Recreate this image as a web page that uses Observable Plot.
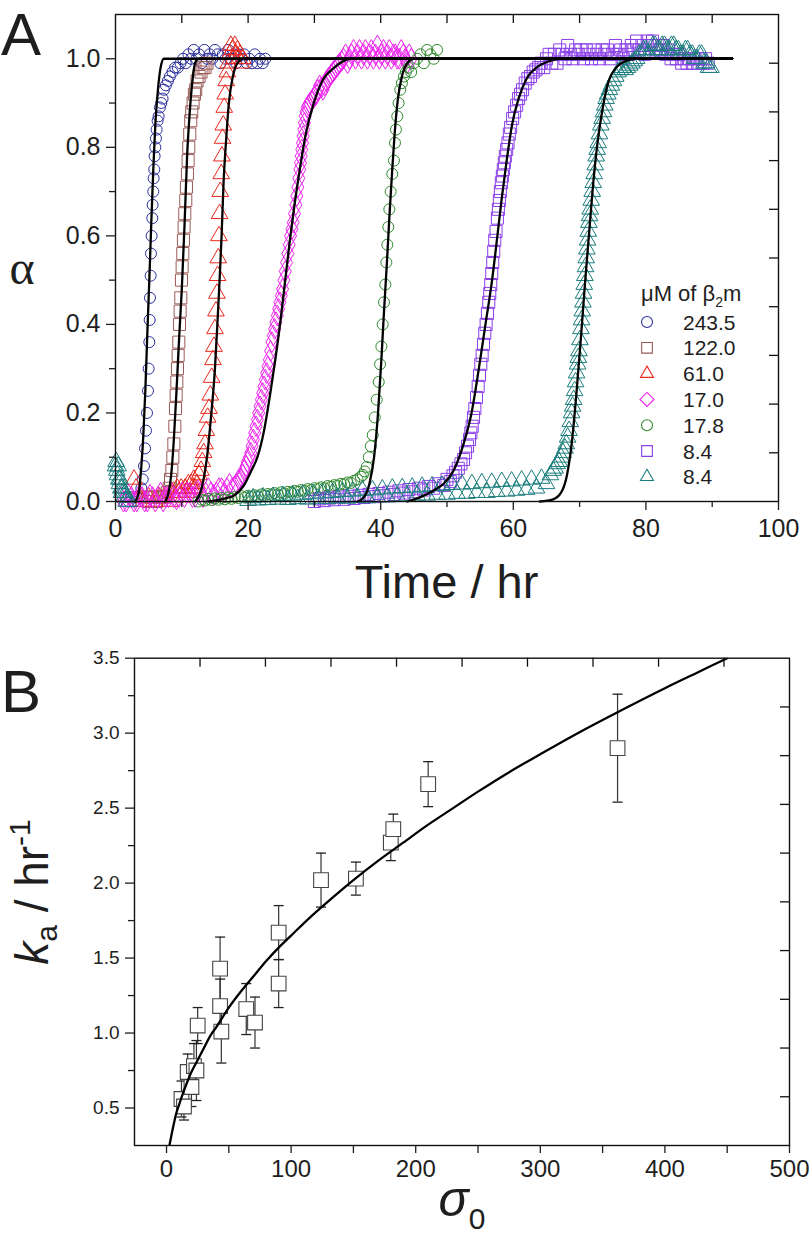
<!DOCTYPE html>
<html><head><meta charset="utf-8">
<script src="https://cdn.jsdelivr.net/npm/d3@7"></script>
<script src="https://cdn.jsdelivr.net/npm/@observablehq/plot@0.6"></script>
<style>
body{margin:0;background:#fff;}
#wrap{position:relative;width:809px;height:1235px;overflow:hidden;background:#fff;}
</style></head><body><div id="wrap"></div>
<script>
const FONT = '"Liberation Sans", Arial, Helvetica, sans-serif';

// ---------- Panel A data ----------
const seriesLabels = ["243.5","122.0","61.0","17.0","17.8","8.4","8.4"];
const seriesColors = ["#2b2f9b","#9a5b57","#e8281e","#ee22ee","#2f8a2f","#8a3ee8","#1b7d7d"];
const seriesSymbols = ["circle","square","triangle","diamond","circle","square","triangle"];

const obs243_5 = [[1.6,0.01],[2.0,0.0],[2.4,0.01],[2.8,0.0],[3.2,0.01],[3.6,0.01],[3.9,0.03],[4.1,0.05],[4.3,0.08],[4.45,0.12],[4.6,0.16],[4.75,0.2],[4.9,0.25],[5.0,0.3],[5.1,0.36],[5.15,0.41],[5.2,0.46],[5.3,0.51],[5.35,0.56],[5.45,0.6],[5.55,0.64],[5.6,0.67],[5.7,0.7],[5.75,0.73],[5.85,0.75],[5.9,0.78],[6.0,0.8],[6.1,0.82],[6.2,0.84],[6.35,0.86],[6.5,0.87],[6.7,0.89],[6.9,0.9],[7.1,0.91],[7.3,0.93],[7.6,0.94],[7.9,0.95],[8.2,0.96],[8.6,0.97],[9.0,0.98],[9.4,0.98],[9.8,0.99],[10.2,1.0],[10.6,0.99],[11.0,1.01],[11.4,1.0],[11.8,1.02],[12.2,1.0],[12.6,1.01],[13.0,0.99],[13.4,1.02],[13.8,1.0],[14.2,1.01],[14.6,1.0],[15.0,1.02],[15.4,1.01],[15.8,0.99],[16.2,1.01],[16.6,1.0],[17.0,1.02],[17.4,1.0],[17.8,1.01],[18.2,0.99],[18.6,1.01],[19.0,1.0],[19.4,1.01],[19.8,0.99],[20.2,1.0],[20.6,0.99],[21.0,1.01],[21.4,0.99],[21.8,1.0],[22.2,0.99],[22.6,1.0]];
const obs122_0 = [[4.6,0.01],[5.0,0.0],[5.4,0.01],[5.8,0.01],[6.2,0.0],[6.6,0.01],[7.0,0.01],[7.4,0.01],[7.8,0.02],[8.1,0.03],[8.3,0.05],[8.5,0.07],[8.65,0.1],[8.8,0.13],[8.95,0.17],[9.05,0.21],[9.15,0.24],[9.25,0.27],[9.35,0.3],[9.45,0.33],[9.55,0.36],[9.65,0.4],[9.75,0.43],[9.85,0.46],[9.95,0.5],[10.05,0.53],[10.15,0.56],[10.25,0.59],[10.35,0.62],[10.45,0.65],[10.6,0.68],[10.7,0.71],[10.85,0.74],[10.95,0.77],[11.05,0.8],[11.2,0.83],[11.35,0.86],[11.5,0.88],[11.7,0.9],[11.9,0.92],[12.1,0.93],[12.3,0.95],[12.6,0.96],[12.9,0.97],[13.2,0.98],[13.5,0.98],[13.8,0.99]];
const obs61_0 = [[2.8,0.05],[3.1,0.03],[3.6,0.01],[4.2,0.0],[5.0,0.01],[5.8,0.0],[6.6,0.01],[7.4,0.01],[8.2,0.0],[8.6,0.02],[9.0,0.01],[9.3,0.03],[9.6,0.02],[9.9,0.03],[10.2,0.01],[10.5,0.03],[10.7,0.02],[11.0,0.04],[11.2,0.02],[11.4,0.04],[11.6,0.03],[11.8,0.05],[12.0,0.03],[12.3,0.04],[12.6,0.06],[12.9,0.07],[13.1,0.09],[13.3,0.11],[13.5,0.13],[13.7,0.16],[13.9,0.19],[14.1,0.21],[14.3,0.24],[14.5,0.28],[14.7,0.32],[14.85,0.35],[15.0,0.39],[15.15,0.43],[15.3,0.47],[15.4,0.51],[15.5,0.55],[15.6,0.6],[15.7,0.65],[15.8,0.7],[15.95,0.74],[16.05,0.78],[16.15,0.82],[16.25,0.85],[16.4,0.89],[16.55,0.92],[16.7,0.95],[16.85,0.97],[17.0,0.99],[17.2,1.01],[17.4,1.03],[17.6,1.02],[17.8,1.0],[18.0,1.03],[18.2,1.01],[18.4,1.02],[18.6,1.0],[18.8,1.01],[19.0,0.99],[19.2,1.0]];
const obs17_0 = [[0.8,0.01],[1.2,0.0],[1.6,0.0],[2.0,0.015],[2.4,0.01],[2.8,0.0],[3.2,0.0],[3.6,0.015],[4.0,0.01],[4.4,0.0],[4.8,0.0],[5.2,0.015],[5.6,0.01],[6.0,0.0],[6.4,0.01],[6.8,0.02],[7.2,0.0],[7.6,0.01],[8.0,0.01],[8.4,0.02],[8.8,0.01],[9.2,0.005],[9.6,0.01],[10.0,0.02],[10.4,0.01],[10.8,0.02],[11.2,0.02],[11.6,0.01],[12.0,0.01],[12.4,0.025],[12.8,0.02],[13.2,0.01],[13.6,0.02],[14.0,0.03],[14.4,0.02],[14.8,0.015],[15.2,0.02],[15.6,0.03],[16.0,0.03],[16.4,0.02],[16.8,0.03],[17.2,0.04],[17.6,0.03],[18.0,0.035],[18.3,0.04],[18.6,0.05],[18.9,0.05],[19.2,0.06],[19.4,0.07],[19.7,0.08],[19.9,0.09],[20.2,0.1],[20.4,0.11],[20.6,0.125],[20.8,0.14],[21.0,0.155],[21.2,0.17],[21.4,0.185],[21.6,0.2],[21.8,0.215],[22.0,0.23],[22.2,0.245],[22.4,0.26],[22.6,0.275],[22.8,0.29],[23.0,0.305],[23.2,0.32],[23.4,0.34],[23.6,0.36],[23.8,0.375],[24.0,0.39],[24.2,0.405],[24.4,0.42],[24.6,0.435],[24.8,0.45],[25.0,0.465],[25.2,0.48],[25.4,0.5],[25.6,0.52],[25.8,0.54],[26.0,0.56],[26.2,0.58],[26.4,0.6],[26.6,0.615],[26.8,0.63],[27.0,0.65],[27.2,0.67],[27.35,0.69],[27.5,0.71],[27.65,0.73],[27.8,0.75],[27.9,0.765],[28.0,0.78],[28.1,0.795],[28.2,0.81],[28.3,0.825],[28.4,0.84],[28.5,0.855],[28.6,0.87],[28.75,0.88],[28.9,0.89],[29.1,0.895],[29.3,0.9],[29.55,0.905],[29.8,0.91],[30.05,0.915],[30.3,0.92],[30.55,0.93],[30.8,0.94],[31.05,0.935],[31.3,0.93],[31.55,0.94],[31.8,0.95],[32.05,0.955],[32.3,0.96],[32.55,0.965],[32.8,0.97],[33.05,0.975],[33.3,0.98],[33.55,0.985],[33.8,0.99],[34.1,0.995],[34.4,1.0],[34.7,1.01],[35.0,0.99],[35.3,1.0],[35.6,1.01],[35.9,1.02],[36.2,1.0],[36.5,1.01],[36.8,1.02],[37.1,1.0],[37.4,1.01],[37.7,1.02],[38.0,1.0],[38.3,1.01],[38.6,1.02],[38.9,1.0],[39.2,1.01],[39.5,1.03],[39.8,1.0],[40.1,1.01],[40.4,1.02],[40.7,1.0],[41.0,1.01],[41.3,1.02],[41.6,1.0],[41.9,1.01],[42.2,1.01],[42.5,1.0],[42.8,1.0],[43.1,1.02],[43.4,1.01],[43.7,1.0],[44.0,0.99],[44.3,1.01],[44.6,1.0]];
const obs17_8 = [[12.5,0.0],[13,0.004],[13.5,0.002],[14,0.006],[14.5,0.003],[15,0.007],[15.5,0.004],[16,0.008],[16.5,0.005],[17,0.009],[17.5,0.006],[18,0.01],[18.5,0.008],[19,0.012],[19.5,0.009],[20,0.013],[20.5,0.01],[21,0.014],[21.5,0.012],[22,0.016],[22.5,0.013],[23,0.017],[23.5,0.015],[24,0.019],[24.5,0.016],[25,0.021],[25.5,0.018],[26,0.022],[26.5,0.02],[27,0.024],[27.5,0.022],[28,0.026],[28.5,0.024],[29,0.028],[29.5,0.026],[30,0.03],[30.5,0.028],[31,0.032],[31.5,0.03],[32,0.035],[32.5,0.033],[33,0.037],[33.5,0.036],[34,0.04],[34.5,0.039],[35,0.043],[35.5,0.042],[36,0.047],[36.5,0.05],[37,0.056],[37.3,0.06],[37.6,0.068],[37.9,0.078],[38.2,0.1],[38.5,0.125],[38.8,0.15],[39.1,0.19],[39.4,0.23],[39.7,0.27],[39.9,0.31],[40.1,0.35],[40.3,0.4],[40.5,0.45],[40.7,0.49],[40.85,0.54],[41.0,0.58],[41.15,0.62],[41.3,0.66],[41.5,0.7],[41.75,0.74],[42.0,0.77],[42.15,0.81],[42.3,0.84],[42.5,0.87],[42.7,0.9],[42.95,0.93],[43.2,0.945],[43.5,0.96],[43.8,0.97],[44.2,0.98],[44.6,0.97],[45.0,0.99],[45.5,1.0],[46.0,1.01],[46.5,0.99],[47.0,1.02],[47.5,1.01],[48.0,1.0],[48.5,1.02]];
const obs8_4a = [[30,0.0],[30.75,0.006],[31.5,0.002],[32.25,0.008],[33,0.004],[33.75,0.01],[34.5,0.005],[35.25,0.012],[36,0.007],[36.75,0.014],[37.5,0.009],[38.25,0.016],[39,0.011],[39.75,0.018],[40.5,0.013],[41.25,0.021],[42,0.016],[42.75,0.024],[43.5,0.019],[44.25,0.027],[45,0.022],[45.75,0.03],[46.5,0.026],[47.25,0.034],[48,0.03],[48.75,0.04],[49.5,0.036],[50.0,0.05],[50.5,0.045],[50.9,0.058],[51.3,0.066],[51.7,0.075],[52.1,0.085],[52.5,0.095],[52.8,0.11],[53.1,0.125],[53.4,0.14],[53.6,0.155],[53.8,0.17],[54.0,0.19],[54.2,0.21],[54.45,0.235],[54.7,0.26],[54.9,0.285],[55.1,0.31],[55.3,0.33],[55.5,0.355],[55.7,0.38],[55.9,0.4],[56.1,0.425],[56.3,0.45],[56.45,0.47],[56.6,0.49],[56.75,0.515],[56.9,0.54],[57.05,0.565],[57.2,0.59],[57.4,0.61],[57.6,0.64],[57.75,0.66],[57.9,0.68],[58.05,0.7],[58.2,0.72],[58.35,0.735],[58.5,0.75],[58.65,0.765],[58.8,0.78],[59.0,0.795],[59.2,0.81],[59.4,0.83],[59.6,0.845],[59.9,0.865],[60.2,0.88],[60.5,0.895],[60.8,0.91],[61.1,0.92],[61.4,0.93],[61.8,0.945],[62.2,0.955],[62.6,0.96],[63.0,0.97],[63.4,0.975],[63.8,0.98],[64.2,0.99],[64.6,0.98],[65.0,1.0],[65.4,1.01],[65.8,0.99],[66.2,1.01],[66.6,0.99],[67.0,1.02],[67.4,1.01],[67.8,1.0],[68.2,1.03],[68.6,1.01],[69.0,1.0],[69.4,1.02],[69.8,1.01],[70.2,1.02],[70.6,1.0],[71.0,1.02],[71.4,1.01],[71.8,1.0],[72.2,1.02],[72.6,1.01],[73.0,1.0],[73.4,1.02],[73.8,1.01],[74.2,1.02],[74.6,1.0],[75.0,1.01],[75.4,1.03],[75.8,1.01],[76.2,1.02],[76.6,1.0],[77.0,1.02],[77.4,1.01],[77.8,1.03],[78.2,1.02],[78.6,1.04],[79.0,1.02],[79.4,1.03],[79.8,1.01],[80.2,1.04],[80.6,1.03],[81.0,1.04],[81.4,1.02],[81.8,1.03],[82.2,1.02],[82.6,1.03],[83.0,1.01],[83.4,1.02],[83.8,1.0],[84.2,1.01],[84.6,1.0],[85.0,1.01],[85.4,0.99],[85.8,1.0],[86.2,0.99],[86.6,1.0],[87.0,0.99],[87.4,1.0],[87.8,0.99],[88.2,1.0],[88.6,0.99],[89.0,1.0],[89.4,0.99]];
const obs8_4b = [[0.0,0.08],[0.1,0.09],[0.2,0.07],[0.3,0.06],[0.4,0.08],[0.5,0.05],[0.6,0.04],[0.7,0.05],[0.8,0.03],[0.9,0.02],[1.0,0.03],[1.15,0.02],[1.3,0.01],[1.45,0.02],[1.6,0.0],[1.8,0.01],[2.0,0.0],[20,0.002],[20.75,0.008],[21.5,0.003],[22.25,0.01],[23,0.004],[23.75,0.011],[24.5,0.005],[25.25,0.013],[26,0.004],[26.75,0.014],[27.5,0.006],[28.25,0.016],[29,0.005],[29.75,0.017],[30.5,0.007],[31.25,0.019],[32,0.006],[32.75,0.02],[33.5,0.008],[34.25,0.022],[35,0.007],[35.75,0.023],[36.5,0.009],[37.25,0.025],[38,0.008],[38.75,0.026],[39.5,0.01],[40.25,0.028],[41,0.01],[41.75,0.03],[42.5,0.012],[43.25,0.031],[44,0.012],[44.75,0.032],[45.5,0.014],[46.25,0.034],[47,0.014],[47.75,0.035],[48.5,0.016],[49.25,0.036],[50,0.016],[50.75,0.038],[51.5,0.018],[52.25,0.039],[53,0.018],[53.75,0.04],[54.5,0.02],[55.25,0.042],[56,0.02],[56.75,0.043],[57.5,0.022],[58.25,0.045],[59,0.023],[59.75,0.046],[60.5,0.025],[61.25,0.048],[62,0.027],[62.75,0.05],[63.5,0.03],[64.25,0.052],[65,0.04],[65.6,0.06],[66.0,0.07],[66.3,0.075],[66.6,0.085],[66.9,0.09],[67.2,0.1],[67.5,0.11],[67.8,0.12],[68.0,0.13],[68.2,0.145],[68.4,0.16],[68.6,0.18],[68.8,0.2],[68.95,0.215],[69.1,0.23],[69.25,0.25],[69.4,0.27],[69.55,0.29],[69.7,0.31],[69.8,0.325],[69.9,0.34],[70.05,0.365],[70.2,0.39],[70.3,0.41],[70.4,0.43],[70.5,0.45],[70.6,0.47],[70.7,0.49],[70.8,0.51],[70.9,0.53],[71.0,0.55],[71.1,0.57],[71.2,0.59],[71.3,0.61],[71.4,0.63],[71.5,0.645],[71.6,0.66],[71.75,0.68],[71.9,0.7],[72.05,0.72],[72.2,0.74],[72.35,0.76],[72.5,0.78],[72.65,0.795],[72.8,0.81],[73.0,0.83],[73.2,0.85],[73.4,0.865],[73.6,0.88],[73.8,0.895],[74.0,0.91],[74.25,0.92],[74.5,0.93],[74.8,0.94],[75.1,0.95],[75.45,0.96],[75.8,0.97],[76.15,0.975],[76.5,0.98],[76.85,0.975],[77.2,0.98],[77.55,0.985],[77.9,0.99],[78.25,0.995],[78.6,1.0],[78.95,1.01],[79.3,1.01],[79.65,1.02],[80.0,1.02],[80.35,1.01],[80.7,1.01],[81.05,1.03],[81.4,1.03],[81.75,1.02],[82.1,1.02],[82.45,1.03],[82.8,1.03],[83.15,1.02],[83.5,1.02],[83.85,1.03],[84.2,1.03],[84.55,1.02],[84.9,1.02],[85.25,1.01],[85.6,1.01],[85.95,1.02],[86.3,1.02],[86.65,1.01],[87.0,1.01],[87.35,1.0],[87.7,1.0],[88.05,1.01],[88.4,1.01],[88.75,0.99],[89.1,0.99],[89.45,0.98],[89.8,0.98]];

// fitted curves
const fit243_5 = [[3.0,0],[3.5,0.02],[3.9,0.08],[4.2,0.15],[4.5,0.25],[4.8,0.38],[5.1,0.5],[5.4,0.63],[5.7,0.75],[6.0,0.85],[6.4,0.93],[6.8,0.98],[7.3,1.0],[93,1.0]];
const fit122_0 = [[7.5,0],[8.0,0.02],[8.4,0.06],[8.8,0.14],[9.2,0.25],[9.6,0.37],[10.0,0.48],[10.4,0.62],[10.8,0.78],[11.2,0.88],[11.6,0.95],[12.0,0.99],[12.5,1.0],[93,1.0]];
const fit61_0 = [[12,0],[12.8,0.02],[13.4,0.06],[13.8,0.1],[14.4,0.19],[15.0,0.3],[15.4,0.41],[15.7,0.5],[16.0,0.6],[16.3,0.72],[16.7,0.82],[17.1,0.9],[17.7,0.96],[18.4,0.99],[19.3,1.0],[93,1.0]];
const fit17_0 = [[14,0],[16,0.005],[18,0.015],[19.3,0.035],[20.5,0.07],[21.4,0.1],[22.4,0.16],[23.3,0.24],[24.1,0.32],[24.9,0.41],[25.6,0.5],[26.3,0.59],[27.0,0.67],[27.8,0.75],[28.7,0.83],[29.9,0.9],[31.2,0.95],[33,0.98],[35.5,1.0],[93,1.0]];
const fit17_8 = [[36.5,0],[37.5,0.01],[38.3,0.04],[39.0,0.1],[39.6,0.2],[40.1,0.32],[40.5,0.43],[40.9,0.53],[41.3,0.64],[41.7,0.74],[42.1,0.83],[42.6,0.91],[43.2,0.96],[44,0.99],[45,1.0],[93,1.0]];
const fit8_4a = [[44,0],[46,0.01],[48,0.025],[49.5,0.04],[51,0.07],[52.5,0.13],[53.7,0.2],[54.8,0.3],[55.8,0.4],[56.8,0.5],[57.6,0.6],[58.3,0.69],[59.0,0.77],[59.8,0.85],[60.8,0.91],[62,0.955],[63.5,0.98],[65.5,0.995],[67,1.0],[93,1.0]];
const fit8_4b = [[64,0],[66,0.005],[67.2,0.02],[68.1,0.06],[68.8,0.13],[69.5,0.24],[70.2,0.37],[70.8,0.49],[71.4,0.6],[72.0,0.71],[72.7,0.81],[73.5,0.89],[74.4,0.95],[75.5,0.98],[77,0.995],[78.5,1.0],[93,1.0]];

const obsSets = [obs243_5, obs122_0, obs61_0, obs17_0, obs17_8, obs8_4a, obs8_4b];
const fitSets = [fit243_5, fit122_0, fit61_0, fit17_0, fit17_8, fit8_4a, fit8_4b];

const xTicksA = [0,20,40,60,80,100];
const xMinorA = [10,30,50,70,90];
const yTicksA = [0,0.2,0.4,0.6,0.8,1.0];
const yMinorA = [0.1,0.3,0.5,0.7,0.9];
const topTicksA = [10,20,30,40,50,60,70,80,90];
const rightTicksA = [0.11,0.22,0.33,0.44,0.55,0.66,0.77,0.88,0.99];

// ---------- Panel B data ----------
const sigma0 = [12,14,17,20,22,24,25,43,43,44,64,71,90,90,124,152,180,182,210,362];
const ka     = [0.56,0.51,0.74,0.64,0.78,0.75,1.05,1.43,1.18,1.01,1.16,1.07,1.67,1.33,2.02,2.03,2.27,2.36,2.66,2.90];
const kaErr  = [0.12,0.09,0.12,0.13,0.15,0.2,0.12,0.21,0.18,0.21,0.17,0.17,0.18,0.16,0.18,0.11,0.12,0.1,0.15,0.36];
const fitSigma = [2.3,4,6,8,10,12,16,20,25,30,35,40,50,60,70,80,90,100,115,130,150,170,190,210,230,250,275,300,330,362,400,425,450];
const fitKa    = [0.25,0.32,0.40,0.47,0.52,0.57,0.66,0.74,0.82,0.90,0.98,1.04,1.17,1.28,1.38,1.48,1.57,1.65,1.77,1.88,2.02,2.15,2.27,2.39,2.50,2.61,2.74,2.86,3.00,3.14,3.30,3.40,3.50];

const xTicksB = [0,100,200,300,400,500];
const xMinorB = [50,150,250,350,450];
const yTicksB = [0.5,1.0,1.5,2.0,2.5,3.0,3.5];
const yMinorB = [0.75,1.25,1.75,2.25,2.75,3.25];
const topTicksB = [26.9,79.4,132,184.6,237.2,289.7,342.3,394.9,447.4];
const rightTicksB = [0.575,0.9,1.225,1.55,1.875,2.2,2.525,2.85,3.175];

// ---------- build panel A ----------
const rSym = {circle:5.5, square:6.8, triangle:6.2, diamond:6.3};
const wrap = document.getElementById("wrap");

const A = {w:809, h:620, ml:115, mr:31, mt:14, mb:119};
const fwA = A.w - A.ml - A.mr, fhA = A.h - A.mt - A.mb;

const dotMarks = obsSets.map((set, i) => Plot.dot(set, {
  x: d => d[0], y: d => d[1], symbol: seriesSymbols[i], r: rSym[seriesSymbols[i]],
  stroke: seriesColors[i], fill: "none", strokeWidth: 1
}));
const fitRows = fitSets.flatMap((set, i) => set.map(d => ({t: d[0], a: d[1], s: i})));

const plotA = Plot.plot({
  width: A.w, height: A.h,
  marginLeft: A.ml, marginRight: A.mr, marginTop: A.mt, marginBottom: A.mb,
  x: {domain: [0, 100]}, y: {domain: [0, 1.1]},
  style: {fontFamily: FONT, color: "#1e1e1e", background: "transparent", overflow: "visible"},
  marks: [
    ...dotMarks,
    Plot.line(fitRows, {x: "t", y: "a", z: "s", stroke: "#000", strokeWidth: 2.3, curve: "monotone-x"}),
    Plot.frame({stroke: "#111", strokeWidth: 1.4}),
    Plot.axisX({ticks: xTicksA, tickSize: 9, tickPadding: 9, fontSize: 25, tickFormat: d => d, label: null, strokeWidth: 1.3}),
    Plot.axisX({ticks: xMinorA, tickSize: 6, tickFormat: () => "", label: null, strokeWidth: 1.3}),
    Plot.axisY({ticks: yTicksA, tickSize: 9, tickPadding: 6, fontSize: 25, tickFormat: d3.format(".1f"), label: null, strokeWidth: 1.3}),
    Plot.axisY({ticks: yMinorA, tickSize: 6, tickFormat: () => "", label: null, strokeWidth: 1.3}),
    Plot.tickX(topTicksA, {x: d => d, insetBottom: fhA - 9, stroke: "#111", strokeWidth: 1.3}),
    Plot.tickY(rightTicksA, {y: d => d, insetLeft: fwA - 9, stroke: "#111", strokeWidth: 1.3})
  ]
});
plotA.style.position = "absolute"; plotA.style.left = "0px"; plotA.style.top = "0px";
wrap.appendChild(plotA);

// ---------- build panel B ----------
const B = {top: 620, w:809, h:615, ml:134, mr:20, mt:37.7, mb:90};
const fwB = B.w - B.ml - B.mr, fhB = B.h - B.mt - B.mb;
const rowsB = sigma0.map((s, i) => ({s, k: ka[i], e: kaErr[i]}));
const fitB = fitSigma.map((s, i) => ({s, k: fitKa[i]}));
const capSymbol = {draw(ctx, size) { const r = Math.sqrt(size / Math.PI); ctx.moveTo(-r, 0); ctx.lineTo(r, 0); }};

const plotB = Plot.plot({
  width: B.w, height: B.h,
  marginLeft: B.ml, marginRight: B.mr, marginTop: B.mt, marginBottom: B.mb,
  x: {domain: [-25.7, 500]}, y: {domain: [0.25, 3.5]},
  style: {fontFamily: FONT, color: "#1e1e1e", background: "transparent", overflow: "visible"},
  marks: [
    Plot.ruleX(rowsB, {x: "s", y1: d => d.k - d.e, y2: d => d.k + d.e, stroke: "#333", strokeWidth: 1.2}),
    Plot.dot(rowsB, {x: "s", y: d => d.k + d.e, symbol: capSymbol, r: 5, stroke: "#222", fill: "none", strokeWidth: 1.3}),
    Plot.dot(rowsB, {x: "s", y: d => d.k - d.e, symbol: capSymbol, r: 5, stroke: "#222", fill: "none", strokeWidth: 1.3}),
    Plot.dot(rowsB, {x: "s", y: "k", symbol: "square", r: 8.3, stroke: "#444", fill: "white", strokeWidth: 1.1}),
    Plot.line(fitB, {x: "s", y: "k", stroke: "#000", strokeWidth: 2.3, curve: "catmull-rom", clip: true}),
    Plot.frame({stroke: "#111", strokeWidth: 1.4}),
    Plot.axisX({ticks: xTicksB, tickSize: 8, tickPadding: 6, fontSize: 24, tickFormat: d => d, label: null, strokeWidth: 1.3}),
    Plot.axisX({ticks: xMinorB, tickSize: 8, tickFormat: () => "", label: null, strokeWidth: 1.3}),
    Plot.axisY({ticks: yTicksB, tickSize: 9, tickPadding: 6, fontSize: 19, tickFormat: d3.format(".1f"), label: null, strokeWidth: 1.3}),
    Plot.axisY({ticks: yMinorB, tickSize: 6, tickFormat: () => "", label: null, strokeWidth: 1.3}),
    Plot.tickX(topTicksB, {x: d => d, insetBottom: fhB - 9, stroke: "#111", strokeWidth: 1.3}),
    Plot.tickY(rightTicksB, {y: d => d, insetLeft: fwB - 9, stroke: "#111", strokeWidth: 1.3})
  ]
});
plotB.style.position = "absolute"; plotB.style.left = "0px"; plotB.style.top = B.top + "px";
wrap.appendChild(plotB);

// ---------- text overlay: panel letters, axis titles, legend ----------
const over = d3.select(wrap).append("svg")
  .attr("width", 809).attr("height", 1235)
  .style("position", "absolute").style("left", "0px").style("top", "0px")
  .style("pointer-events", "none").style("font-family", FONT).attr("fill", "#1e1e1e");

over.append("text").attr("x", 1).attr("y", 54.5).attr("font-size", 60).text("A");
over.append("text").attr("x", 1).attr("y", 712).attr("font-size", 60).text("B");

over.append("text").attr("x", 446.5).attr("y", 598).attr("text-anchor", "middle").attr("font-size", 47).text("Time / hr");
over.append("text").attr("x", 22).attr("y", 284).attr("text-anchor", "middle")
  .attr("font-size", 48).attr("font-family", '"Liberation Serif", "DejaVu Serif", serif').text("α");

const kt = over.append("text").attr("transform", "translate(48,892) rotate(-90)").attr("text-anchor", "middle").attr("font-size", 46);
kt.append("tspan").attr("font-style", "italic").text("k");
kt.append("tspan").attr("font-size", 30).attr("dy", 9).text("a");
kt.append("tspan").attr("dy", -9).text(" / hr");
kt.append("tspan").attr("font-size", 30).attr("dy", -18).text("-1");

const st = over.append("text").attr("x", 462).attr("y", 1216).attr("text-anchor", "middle").attr("font-size", 50);
st.append("tspan").attr("font-style", "italic").text("σ");
st.append("tspan").attr("font-size", 30).attr("dy", 13).text("0");

// legend
const lg = over.append("g");
const title = lg.append("text").attr("x", 641).attr("y", 301).attr("font-size", 22);
title.append("tspan").text("μM of  β");
title.append("tspan").attr("font-size", 14).attr("dy", 6).text("2");
title.append("tspan").attr("dy", -6).text("m");
const symMap = {circle: d3.symbolCircle, square: d3.symbolSquare2, triangle: d3.symbolTriangle2, diamond: d3.symbolDiamond2};
seriesLabels.forEach((lab, i) => {
  const cy = 322 + 25.8 * i;
  const sym = seriesSymbols[i];
  const r = rSym[sym];
  lg.append("path").attr("transform", `translate(647,${cy})`)
    .attr("d", d3.symbol(symMap[sym], Math.PI * r * r)())
    .attr("fill", "none").attr("stroke", seriesColors[i]).attr("stroke-width", 1.1);
  lg.append("text").attr("x", 683).attr("y", cy + 7.5).attr("font-size", 21).text(lab);
});
</script></body></html>
